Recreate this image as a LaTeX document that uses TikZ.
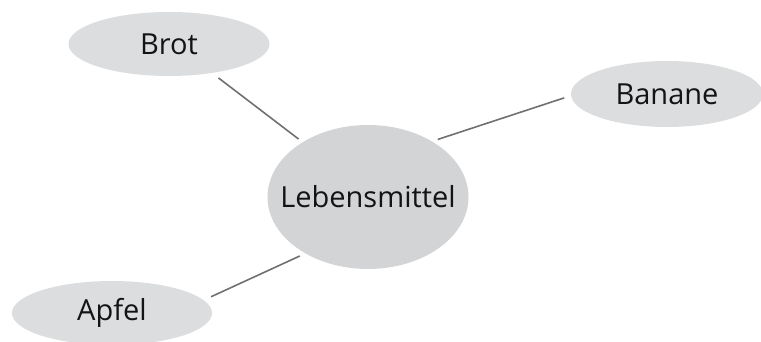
\documentclass[tikz,border=0pt]{standalone}
\usepackage{fontspec}
\setmainfont{Open Sans}
\usetikzlibrary{shapes.geometric}
\definecolor{leaffill}{HTML}{DCDDDF}
\definecolor{hubfill}{HTML}{D3D4D5}
\definecolor{linkgray}{HTML}{707070}
\definecolor{textink}{HTML}{141414}
\newcommand{\nodetext}[1]{\makebox[0pt]{#1}}
\tikzset{
  bubble/.style={ellipse, draw=none, fill=leaffill, inner sep=0pt,
    text=textink, font=\fontsize{29}{30}\selectfont},
  hub/.style={bubble, fill=hubfill},
  link/.style={draw=linkgray, line width=1.6pt}
}
\begin{document}
\begin{tikzpicture}[x=1pt,y=1pt]
\useasboundingbox (0,0) rectangle (761,342);
\node[hub, minimum width=201pt, minimum height=144pt] (leb) at (368,145) {\nodetext{Lebensmittel}};
\node[bubble, minimum width=201pt, minimum height=64pt] (brot) at (169,298) {\nodetext{Brot}};
\node[bubble, minimum width=192pt, minimum height=66pt] (banane) at (667,248) {\nodetext{Banane}};
\node[bubble, minimum width=200pt, minimum height=64pt] (apfel) at (112,29) {\nodetext{Apfel}};
\draw[link, shorten <=8pt, shorten >=5pt] (brot.-34) -- (leb.140.8);
\draw[link, shorten <=7pt, shorten >=6pt] (banane.181) -- (leb.41.4);
\draw[link, shorten <=8pt, shorten >=6pt] (apfel.8) -- (leb.222.7);
\end{tikzpicture}
\end{document}
